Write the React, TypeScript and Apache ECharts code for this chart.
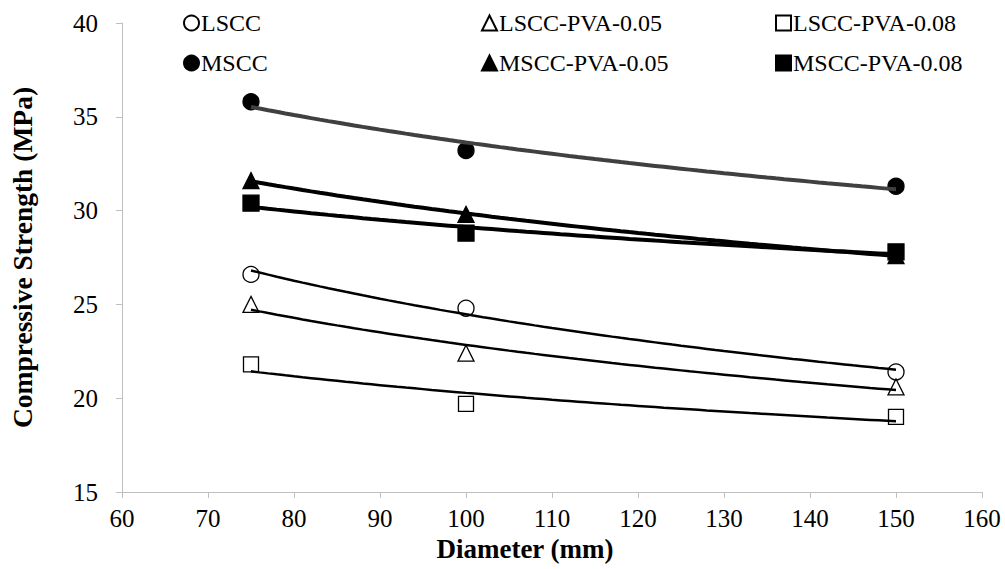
import React, { useEffect, useRef } from "react";
import * as echarts from "echarts";

const diameters = [75, 100, 150];
const lscc = [26.6, 24.8, 21.4];
const lsccPva005 = [25.0, 22.4, 20.6];
const lsccPva008 = [21.8, 19.7, 19.0];
const mscc = [35.8, 33.2, 31.3];
const msccPva005 = [31.6, 29.8, 27.6];
const msccPva008 = [30.4, 28.8, 27.8];

const xTicks = { min: 60, max: 160, interval: 10 };
const yTicks = { min: 15, max: 40, interval: 5 };

// power trendline (least squares on ln-ln), as the spreadsheet's trendline
function powerFit(xs: number[], ys: number[]) {
  const lx = xs.map(Math.log);
  const ly = ys.map(Math.log);
  const n = xs.length;
  const mx = lx.reduce((a, b) => a + b, 0) / n;
  const my = ly.reduce((a, b) => a + b, 0) / n;
  let sxy = 0, sxx = 0;
  for (let i = 0; i < n; i++) {
    sxy += (lx[i] - mx) * (ly[i] - my);
    sxx += (lx[i] - mx) * (lx[i] - mx);
  }
  const b = sxy / sxx;
  const a = Math.exp(my - b * mx);
  const pts: [number, number][] = [];
  const x0 = Math.min(...xs), x1 = Math.max(...xs);
  for (let x = x0; x <= x1 + 1e-9; x += 1) pts.push([x, a * Math.pow(x, b)]);
  return pts;
}

const FONT = "Liberation Serif";

export default function App() {
  const ref = useRef<HTMLDivElement>(null);
  useEffect(() => {
    if (!ref.current) return;
    const chart = echarts.init(ref.current, null, { renderer: "svg" });
    const pts = (ys: number[]) => diameters.map((d, i) => [d, ys[i]]);
    const groups = [
      { name: "LSCC", ys: lscc, symbol: "circle", fill: "#ffffff", size: 16, lw: 2.5, lc: "#000000" },
      { name: "LSCC-PVA-0.05", ys: lsccPva005, symbol: "triangle", fill: "#ffffff", size: 16, lw: 2.5, lc: "#000000" },
      { name: "LSCC-PVA-0.08", ys: lsccPva008, symbol: "rect", fill: "#ffffff", size: 15, lw: 2.5, lc: "#000000" },
      { name: "MSCC", ys: mscc, symbol: "circle", fill: "#000000", size: 16, lw: 4, lc: "#404040" },
      { name: "MSCC-PVA-0.05", ys: msccPva005, symbol: "triangle", fill: "#000000", size: 16, lw: 4, lc: "#000000" },
      { name: "MSCC-PVA-0.08", ys: msccPva008, symbol: "rect", fill: "#000000", size: 16, lw: 4, lc: "#000000" },
    ];
    const series: any[] = [];
    groups.forEach((g) => {
      series.push({
        type: "scatter",
        name: g.name,
        data: pts(g.ys),
        symbol: g.symbol,
        symbolSize: g.size,
        itemStyle: { color: g.fill, borderColor: "#000000", borderWidth: 1.3, opacity: 1 },
        z: 2,
      });
    });
    groups.forEach((g) => {
      series.push({
        type: "line",
        name: g.name + " trend",
        data: powerFit(diameters, g.ys),
        showSymbol: false,
        symbol: "none",
        lineStyle: { color: g.lc, width: g.lw },
        z: 3,
      });
    });
    const legendPos = [
      { left: 183, top: 11 },
      { left: 481, top: 11 },
      { left: 775, top: 11 },
      { left: 183, top: 51 },
      { left: 481, top: 51 },
      { left: 775, top: 51 },
    ];
    const legend = groups.map((g, i) => ({
      data: [g.name],
      left: legendPos[i].left,
      top: legendPos[i].top,
      itemWidth: 15,
      itemHeight: 15,
      itemGap: 0,
      padding: 0,
      textStyle: { fontFamily: FONT, fontSize: 24, color: "#000", padding: [0, 0, 0, -3] },
    }));
    chart.setOption({
      animation: false,
      backgroundColor: "#ffffff",
      textStyle: { fontFamily: FONT },
      grid: { left: 121, right: 23, top: 23, bottom: 77 },
      legend,
      xAxis: {
        type: "value",
        min: xTicks.min,
        max: xTicks.max,
        interval: xTicks.interval,
        name: "Diameter (mm)",
        nameLocation: "middle",
        nameGap: 43,
        nameTextStyle: { fontFamily: FONT, fontSize: 27, fontWeight: "bold", color: "#000", padding: [0, 54, 0, 0] },
        axisLine: { show: true, lineStyle: { color: "#bfbfbf", width: 1 } },
        axisTick: { show: true, length: 6, lineStyle: { color: "#bfbfbf" } },
        axisLabel: { fontFamily: FONT, fontSize: 25, color: "#000", margin: 14 },
        splitLine: { show: false },
      },
      yAxis: {
        type: "value",
        min: yTicks.min,
        max: yTicks.max,
        interval: yTicks.interval,
        name: "Compressive Strength (MPa)",
        nameLocation: "middle",
        nameGap: 86,
        nameTextStyle: { fontFamily: FONT, fontSize: 27.5, fontWeight: "bold", color: "#000" },
        axisLine: { show: true, lineStyle: { color: "#bfbfbf", width: 1 } },
        axisTick: { show: true, length: 6, lineStyle: { color: "#bfbfbf" } },
        axisLabel: { fontFamily: FONT, fontSize: 25, color: "#000", margin: 24 },
        splitLine: { show: false },
      },
      series,
    });
    return () => chart.dispose();
  }, []);
  return <div ref={ref} style={{ width: 1005, height: 569, position: "absolute", left: 0, top: 0 }} />;
}
